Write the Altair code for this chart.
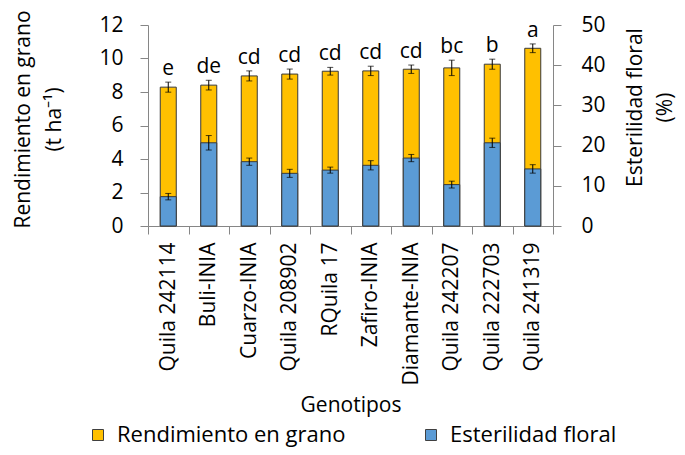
import altair as alt
import pandas as pd

genotipos = ["Quila 242114", "Buli-INIA", "Cuarzo-INIA", "Quila 208902", "RQuila 17",
             "Zafiro-INIA", "Diamante-INIA", "Quila 242207", "Quila 222703", "Quila 241319"]
rendimiento = [8.29, 8.41, 8.96, 9.07, 9.24, 9.26, 9.36, 9.44, 9.66, 10.61]
err_rend = [0.30, 0.29, 0.30, 0.30, 0.23, 0.28, 0.25, 0.46, 0.30, 0.26]
esterilidad = [7.3, 20.7, 16.0, 13.1, 13.9, 15.1, 16.9, 10.3, 20.7, 14.2]
err_est = [0.8, 1.8, 0.9, 1.0, 0.75, 1.15, 0.9, 0.85, 1.15, 1.05]
letras = ["e", "de", "cd", "cd", "cd", "cd", "cd", "bc", "b", "a"]
series = ["Rendimiento en grano", "Esterilidad floral"]
colores = ["#FFC000", "#5B9BD5"]

df_r = pd.DataFrame({"genotipo": genotipos, "valor": rendimiento, "err": err_rend,
                     "letra": letras, "serie": series[0]})
df_r["lo"] = df_r["valor"] - df_r["err"]
df_r["hi"] = df_r["valor"] + df_r["err"]
df_e = pd.DataFrame({"genotipo": genotipos, "valor": esterilidad, "err": err_est,
                     "serie": series[1]})
df_e["lo"] = df_e["valor"] - df_e["err"]
df_e["hi"] = df_e["valor"] + df_e["err"]

AX = "#868686"
FS = 21

x_enc = alt.X("genotipo:N", sort=genotipos,
              scale=alt.Scale(paddingInner=0, paddingOuter=0),
              axis=alt.Axis(title="Genotipos", labelAngle=270, labelAlign="right",
                            labelBaseline="middle", labelPadding=8, labelFontSize=FS,
                            tickBand="extent", tickSize=8, tickColor=AX, domainColor=AX,
                            labelColor="black", titleColor="black", titleFontSize=FS,
                            titleFontWeight="normal", titleY=179, titleBaseline="middle",
                            labelLimit=300))

color_enc = alt.Color("serie:N", scale=alt.Scale(domain=series, range=colores),
                      legend=alt.Legend(orient="none", legendX=-61, legendY=399,
                                        direction="horizontal", columns=2, title=None,
                                        symbolType="square", symbolSize=121,
                                        symbolStrokeColor="#404040", symbolStrokeWidth=1,
                                        symbolOpacity=1, labelFontSize=22, labelOffset=8,
                                        columnPadding=74, labelLimit=400,
                                        labelColor="black"))

yl_scale = alt.Scale(domain=[0, 12], nice=False)
yr_scale = alt.Scale(domain=[0, 50], nice=False)

yl_axis = alt.Axis(title=["Rendimiento en grano", "(t ha⁻¹)"], values=list(range(0, 13, 2)),
                   grid=False, tickSize=8, tickColor=AX, domainColor=AX, labelColor="black",
                   labelFontSize=FS, labelPadding=17, titleFontSize=FS, titleFontWeight="normal",
                   titleColor="black", titleAngle=270, titleLineHeight=31,
                   titleAlign="center", titleBaseline="middle", titleX=-125, titleY=94)
yr_axis = alt.Axis(title=["Esterilidad floral", "(%)"], orient="right",
                   values=list(range(0, 51, 10)),
                   grid=False, tickSize=8, tickColor=AX, domainColor=AX, labelColor="black",
                   labelFontSize=FS, labelPadding=20, titleFontSize=FS, titleFontWeight="normal",
                   titleColor="black", titleAngle=270, titleLineHeight=30,
                   titleAlign="center", titleBaseline="middle", titleX=82, titleY=82)

base_r = alt.Chart(df_r)
bar_r = base_r.mark_bar(size=16, stroke="#3a3a3a", strokeWidth=1).encode(
    x=x_enc, y=alt.Y("valor:Q", scale=yl_scale, axis=yl_axis), color=color_enc)
rule_r = base_r.mark_rule(color="black", strokeWidth=1).encode(
    x=x_enc, y=alt.Y("lo:Q", scale=yl_scale, axis=yl_axis), y2="hi:Q")
cap_r1 = base_r.mark_tick(color="black", size=6, thickness=1).encode(
    x=x_enc, y=alt.Y("lo:Q", scale=yl_scale, axis=yl_axis))
cap_r2 = base_r.mark_tick(color="black", size=6, thickness=1).encode(
    x=x_enc, y=alt.Y("hi:Q", scale=yl_scale, axis=yl_axis))
txt = base_r.mark_text(baseline="alphabetic", dy=-7, fontSize=FS, color="black").encode(
    x=x_enc, y=alt.Y("hi:Q", scale=yl_scale, axis=yl_axis), text="letra:N")

base_e = alt.Chart(df_e)
bar_e = base_e.mark_bar(size=16, stroke="#3a3a3a", strokeWidth=1).encode(
    x=x_enc, y=alt.Y("valor:Q", scale=yr_scale, axis=yr_axis), color=color_enc)
rule_e = base_e.mark_rule(color="black", strokeWidth=1).encode(
    x=x_enc, y=alt.Y("lo:Q", scale=yr_scale, axis=yr_axis), y2="hi:Q")
cap_e1 = base_e.mark_tick(color="black", size=6, thickness=1).encode(
    x=x_enc, y=alt.Y("lo:Q", scale=yr_scale, axis=yr_axis))
cap_e2 = base_e.mark_tick(color="black", size=6, thickness=1).encode(
    x=x_enc, y=alt.Y("hi:Q", scale=yr_scale, axis=yr_axis))

left = alt.layer(bar_r, rule_r, cap_r1, cap_r2, txt)
right = alt.layer(bar_e, rule_e, cap_e1, cap_e2)

chart = alt.layer(left, right).resolve_scale(y="independent").properties(
    width=405, height=201,
    padding={"left": 140, "top": 17, "right": 124, "bottom": 221},
    autosize=alt.AutoSizeParams(type="none"),
).configure(font="Open Sans").configure_view(strokeWidth=0)

chart.save("out.html", embed_options={"renderer": "svg", "actions": False})
